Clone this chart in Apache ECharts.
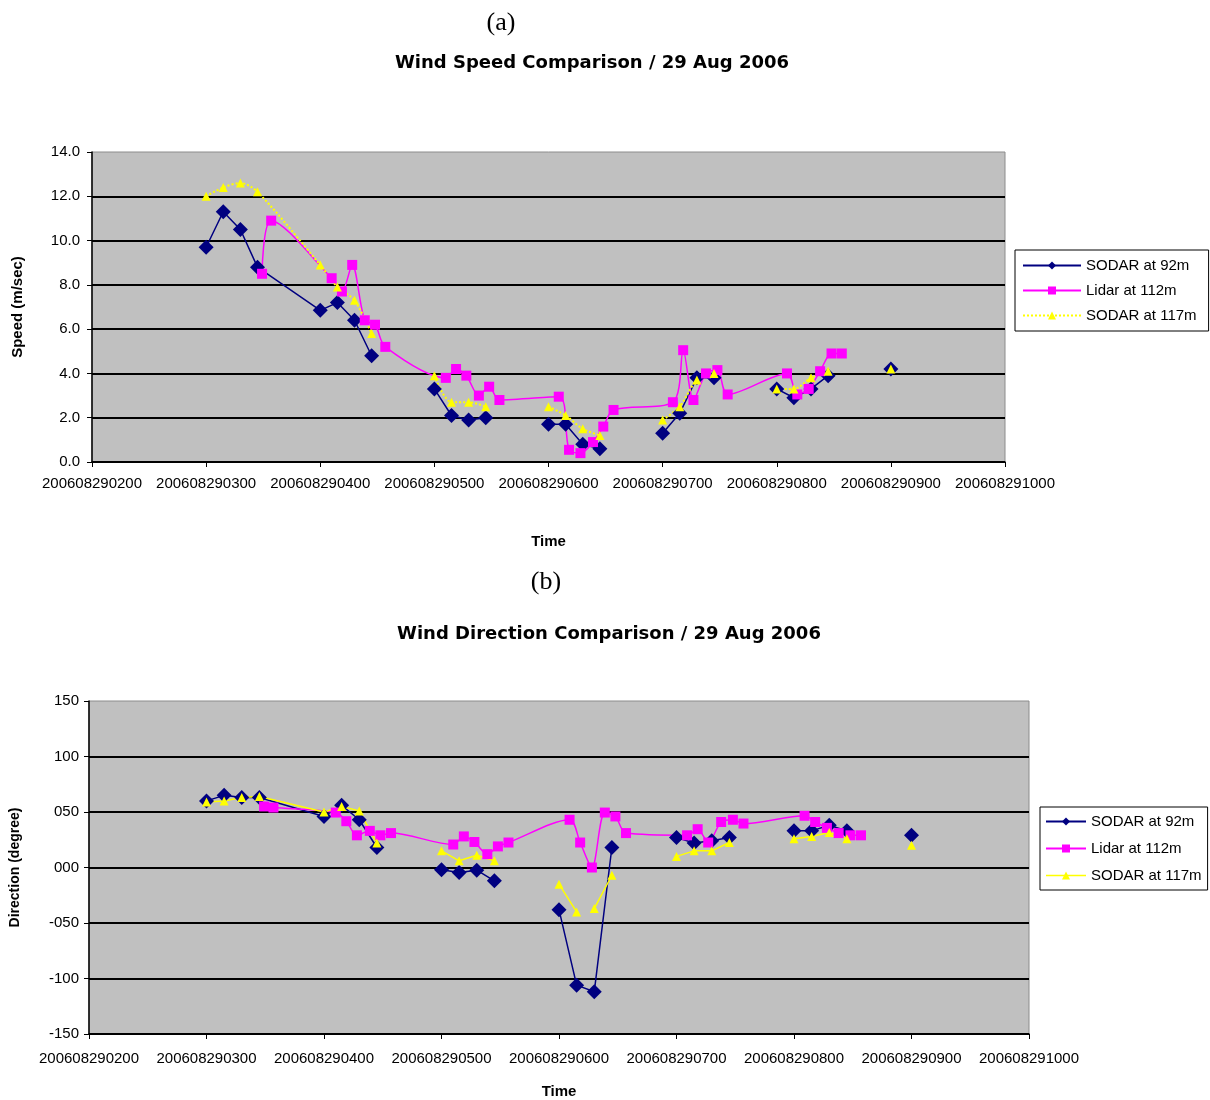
<!DOCTYPE html>
<html>
<head>
<meta charset="utf-8">
<script src="https://cdn.jsdelivr.net/npm/echarts@6/dist/echarts.min.js"></script>
<style>
  html, body { margin: 0; padding: 0; background: #fff; }
  #chart { width: 1210px; height: 1100px; }
</style>
</head>
<body>
<div id="chart"></div>
<script>
// ---- Data (times are HHMM on 29 Aug 2006, plotted as yyyymmddHHMM numbers) ----
const datePrefix = '20060829';
const sodarTimes = ['0300','0315','0330','0345','0400','0415','0430','0445',
                    '0500','0515','0530','0545','0600','0615','0630','0645',
                    '0700','0715','0730','0745','0800','0815','0830','0845','0900'];
const lidarTimes = ['0349','0357','0410','0419','0428','0439','0448','0457',
                    '0510','0519','0528','0539','0548','0557','0609','0618',
                    '0628','0639','0648','0657','0709','0718','0727','0738',
                    '0748','0757','0809','0818','0828','0838','0848','0857'];

// Wind speed (m/sec)
const speedSodar92  = [9.7, 11.3, 10.5, 8.8, 6.85, 7.2, 6.4, 4.8,
                       3.3, 2.1, 1.9, 2.0, 1.7, 1.7, 0.8, 0.6,
                       1.3, 2.2, 3.8, 3.8, 3.3, 2.9, 3.3, 3.9, 4.2];
const speedLidar112 = [8.5, 10.9, 8.3, 7.7, 8.9, 6.4, 6.2, 5.2,
                       3.8, 4.2, 3.9, 3.0, 3.4, 2.8, 2.95, 0.55,
                       0.4, 0.9, 1.6, 2.35, 2.7, 5.05, 2.8, 4.0,
                       4.15, 3.05, 4.0, 3.05, 3.3, 4.1, 4.9, 4.9];
const speedSodar117 = [12.0, 12.4, 12.6, 12.2, 8.9, 7.9, 7.3, 5.8,
                       3.9, 2.7, 2.7, 2.5, 2.5, 2.1, 1.5, 1.2,
                       1.9, 2.5, 3.7, 4.0, 3.3, 3.3, 3.8, 4.1, 4.2];

// Wind direction (degree)
const dirSodar92  = [60, 65, 63, 63, 46, 56, 43, 18,
                     -2, -4.5, -2.4, -12, -38, -106, -112, 18,
                     27, 22, 24, 27, 33, 33, 38, 33, 29];
const dirLidar112 = [55, 54, 49.5, 41.7, 29, 33, 29, 31,
                     20.7, 28, 23, 12, 19, 22.5, 43, 22.5,
                     0, 49.5, 46, 31, 29, 34.5, 22.5, 41,
                     43, 39.6, 46.6, 41, 35.7, 31, 29, 29];
const dirSodar117 = [59, 60, 63, 64, 50, 55, 51, 22,
                     15, 6, 11, 6, -15, -40, -37, -7,
                     10, 15, 15, 22.5, 26, 28, 31.5, 26, 20];

// Line breaks (series line stops after these times)
const sodarBreaks    = ['0445','0545','0645','0745','0845'];
const dirSodar117Breaks = ['0445','0545','0615','0645','0745','0845'];

// Axis settings
const xTickStart = '0200', xTickEnd = '1000', xTickStep = 100;
const seriesNames = ['SODAR at 92m', 'Lidar at 112m', 'SODAR at 117m'];

// ---- Helpers ----
const toX = t => Number(datePrefix + t);
function build(times, vals, breaks) {
  const out = [];
  times.forEach((t, i) => {
    out.push([toX(t), vals[i]]);
    if (breaks.includes(t) && i < times.length - 1) out.push([toX(t), '-']);
  });
  return out;
}

const FONT = "'Liberation Sans', Arial, sans-serif";
const TITLE_FONT = "bold 18px 'DejaVu Sans', Arial, sans-serif";
const NAVY = '#000080', MAGENTA = '#FF00FF', YELLOW = '#FFFF00';

function xAxisCfg(gridIndex, nameGap, margin) {
  return {
    type: 'value', gridIndex,
    min: toX(xTickStart), max: toX(xTickEnd), interval: xTickStep,
    name: 'Time', nameLocation: 'middle', nameGap,
    nameTextStyle: { fontFamily: FONT, fontWeight: 'bold', fontSize: 15, color: '#000' },
    axisLine: { show: true, onZero: false, lineStyle: { color: '#000', width: 1.5 } },
    axisTick: { show: true, length: 5, lineStyle: { color: '#000' } },
    axisLabel: { fontFamily: FONT, fontSize: 15, color: '#000', margin,
                 formatter: v => String(Math.round(v)) },
    splitLine: { show: false }
  };
}

const chart = echarts.init(document.getElementById('chart'), null, { renderer: 'canvas' });

const option = {
  backgroundColor: '#fff',
  animation: false,
  graphic: [
    { type: 'text', x: 501, y: 23, style: { text: '(a)', font: "26px 'Liberation Serif', 'Times New Roman', serif", fill: '#000', textAlign: 'center', textVerticalAlign: 'middle' } },
    { type: 'text', x: 592, y: 63, style: { text: 'Wind Speed Comparison / 29 Aug 2006', font: TITLE_FONT, fill: '#000', textAlign: 'center', textVerticalAlign: 'middle' } },
    { type: 'text', x: 546, y: 582, style: { text: '(b)', font: "26px 'Liberation Serif', 'Times New Roman', serif", fill: '#000', textAlign: 'center', textVerticalAlign: 'middle' } },
    { type: 'text', x: 609, y: 634, style: { text: 'Wind Direction Comparison / 29 Aug 2006', font: TITLE_FONT, fill: '#000', textAlign: 'center', textVerticalAlign: 'middle' } }
  ],
  grid: [
    { left: 92, top: 152, width: 913, height: 310, show: true, backgroundColor: '#C0C0C0', borderColor: '#8c8c8c', borderWidth: 1 },
    { left: 89, top: 701, width: 940, height: 335, show: true, backgroundColor: '#C0C0C0', borderColor: '#8c8c8c', borderWidth: 1 }
  ],
  legend: [
    {
      orient: 'vertical', left: 1015, top: 250,
      padding: [8, 12, 8, 7], itemGap: 10, itemWidth: 58, itemHeight: 10,
      backgroundColor: '#fff', borderColor: '#000', borderWidth: 1,
      textStyle: { fontFamily: FONT, fontSize: 15, color: '#000' },
      data: seriesNames, selectedMode: false
    },
    {
      orient: 'vertical', left: 1040, top: 807,
      padding: [7, 6, 7, 5], itemGap: 12, itemWidth: 40, itemHeight: 10,
      backgroundColor: '#fff', borderColor: '#000', borderWidth: 1,
      textStyle: { fontFamily: FONT, fontSize: 15, color: '#000' },
      selectedMode: false,
      data: [
        { name: seriesNames[0] },
        { name: seriesNames[1] },
        { name: seriesNames[2], lineStyle: { type: 'solid', width: 1.5, color: YELLOW } }
      ]
    }
  ],
  xAxis: [ xAxisCfg(0, 72, 14), xAxisCfg(1, 50, 17) ],
  yAxis: [
    {
      type: 'value', gridIndex: 0, min: 0, max: 14, interval: 2,
      name: 'Speed (m/sec)', nameLocation: 'middle', nameGap: 67, nameRotate: 90,
      nameTextStyle: { fontFamily: FONT, fontWeight: 'bold', fontSize: 15, color: '#000' },
      axisLine: { show: true, lineStyle: { color: '#000', width: 1.5 } },
      axisTick: { show: true, length: 5, lineStyle: { color: '#000' } },
      axisLabel: { fontFamily: FONT, fontSize: 15, color: '#000', margin: 12, formatter: v => v.toFixed(1) },
      splitLine: { show: true, showMaxLine: false, lineStyle: { color: '#000', width: 2 } }
    },
    {
      type: 'value', gridIndex: 1, min: -150, max: 150, interval: 50,
      name: 'Direction (degree)', nameLocation: 'middle', nameGap: 67, nameRotate: 90,
      nameTextStyle: { fontFamily: FONT, fontWeight: 'bold', fontSize: 14, color: '#000' },
      axisLine: { show: true, lineStyle: { color: '#000', width: 1.5 } },
      axisTick: { show: true, length: 5, lineStyle: { color: '#000' } },
      axisLabel: { fontFamily: FONT, fontSize: 15, color: '#000', margin: 10,
        formatter: v => (v < 0 ? '-' : '') + String(Math.abs(v)).padStart(3, '0') },
      splitLine: { show: true, showMaxLine: false, lineStyle: { color: '#000', width: 2 } }
    }
  ],
  series: [
    // ---- (a) speed ----
    { name: seriesNames[0], type: 'line', xAxisIndex: 0, yAxisIndex: 0,
      data: build(sodarTimes, speedSodar92, sodarBreaks),
      symbol: 'diamond', symbolSize: 15, color: NAVY,
      lineStyle: { color: NAVY, width: 1.5 }, itemStyle: { color: NAVY } },
    { name: seriesNames[1], type: 'line', xAxisIndex: 0, yAxisIndex: 0,
      data: build(lidarTimes, speedLidar112, []), smooth: 0.3,
      symbol: 'rect', symbolSize: 10, color: MAGENTA,
      lineStyle: { color: MAGENTA, width: 1.5 }, itemStyle: { color: MAGENTA } },
    { name: seriesNames[2], type: 'line', xAxisIndex: 0, yAxisIndex: 0,
      data: build(sodarTimes, speedSodar117, sodarBreaks), smooth: 0.3,
      symbol: 'triangle', symbolSize: 9, color: YELLOW,
      lineStyle: { color: YELLOW, width: 2, type: 'dotted' }, itemStyle: { color: YELLOW } },
    // ---- (b) direction ----
    { name: seriesNames[0], type: 'line', xAxisIndex: 1, yAxisIndex: 1,
      data: build(sodarTimes, dirSodar92, sodarBreaks),
      symbol: 'diamond', symbolSize: 15, color: NAVY,
      lineStyle: { color: NAVY, width: 1.5 }, itemStyle: { color: NAVY } },
    { name: seriesNames[1], type: 'line', xAxisIndex: 1, yAxisIndex: 1,
      data: build(lidarTimes, dirLidar112, []), smooth: 0.3,
      symbol: 'rect', symbolSize: 10, color: MAGENTA,
      lineStyle: { color: MAGENTA, width: 1.5 }, itemStyle: { color: MAGENTA } },
    { name: seriesNames[2], type: 'line', xAxisIndex: 1, yAxisIndex: 1,
      data: build(sodarTimes, dirSodar117, dirSodar117Breaks),
      symbol: 'triangle', symbolSize: 9, color: YELLOW,
      lineStyle: { color: YELLOW, width: 1.5 }, itemStyle: { color: YELLOW } }
  ]
};
chart.setOption(option);
</script>
</body>
</html>
